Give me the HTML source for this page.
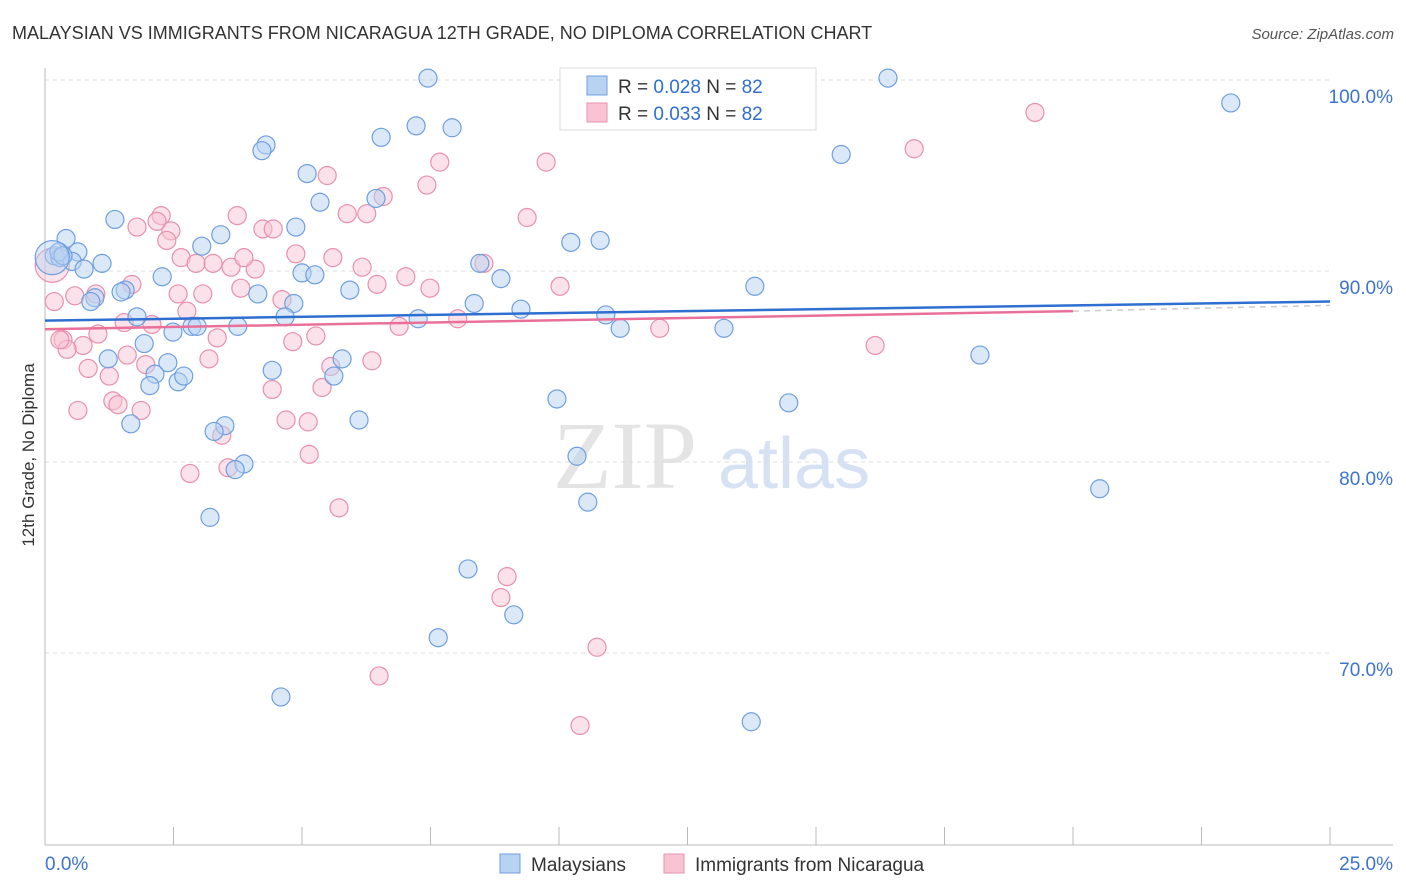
<!DOCTYPE html>
<html><head><meta charset="utf-8"><style>
body{margin:0;background:#fff;font-family:"Liberation Sans",sans-serif;}
</style></head><body>
<svg id="chart" width="1406" height="892" xmlns="http://www.w3.org/2000/svg" style="display:block">
<text x="12" y="39" font-size="18" fill="#333">MALAYSIAN VS IMMIGRANTS FROM NICARAGUA 12TH GRADE, NO DIPLOMA CORRELATION CHART</text>
<text x="1394" y="39" font-size="15" fill="#555" font-style="italic" text-anchor="end">Source: ZipAtlas.com</text>
<g>
<text x="553" y="488" font-size="96" font-family="Liberation Serif,serif" fill="#e4e4e4">ZIP</text>
<text x="718" y="488" font-size="72" fill="#d6e2f3">atlas</text>
</g>
<g id="grid"></g>
<g id="axes"></g>
<g id="pts"></g>
<g id="lines"></g>
<text transform="translate(34,455) rotate(-90)" font-size="17" fill="#333" text-anchor="middle">12th Grade, No Diploma</text>
<g>
<rect x="560" y="68" width="256" height="62" fill="#fff" stroke="#ddd"/>
<rect x="587" y="76" width="20" height="19" fill="#b8d2f2" stroke="#6f9fe0"/>
<rect x="587" y="103" width="20" height="19" fill="#f8c4d4" stroke="#e890ae"/>
<text x="618" y="93" font-size="19" fill="#333">R = <tspan fill="#2f6fd0">0.028</tspan>   N = <tspan fill="#2f6fd0">82</tspan></text>
<text x="618" y="120" font-size="19" fill="#333">R = <tspan fill="#2f6fd0">0.033</tspan>   N = <tspan fill="#2f6fd0">82</tspan></text>
</g>
<g>
<rect x="500" y="854" width="20" height="19" fill="#b8d2f2" stroke="#6f9fe0"/>
<text x="531" y="871" font-size="19" fill="#333">Malaysians</text>
<rect x="664" y="854" width="20" height="19" fill="#f8c4d4" stroke="#e890ae"/>
<text x="695" y="871" font-size="19" fill="#333">Immigrants from Nicaragua</text>
</g>
</svg>
<script>
const yTicks=[100,90,80,70];
const yTickLabels=["100.0%","90.0%","80.0%","70.0%"];
const xTickLabels=["0.0%","25.0%"];
const blueX=[7.45,16.40,23.07,4.30,4.22,6.54,7.22,7.92,5.10,15.49,6.44,5.35,1.36,4.88,3.42,0.41,3.05,0.18,0.29,0.64,0.53,1.11,0.76,2.28,5.00,5.25,8.46,8.87,10.23,10.80,5.93,4.14,4.84,1.56,1.48,0.97,0.89,8.35,9.26,13.81,7.26,10.91,11.19,13.21,4.67,3.75,2.86,2.96,2.49,1.79,1.93,1.23,2.39,5.78,5.62,4.42,2.14,2.04,2.59,2.70,18.19,14.47,9.96,1.67,6.11,3.50,3.29,10.35,3.87,3.70,3.21,20.52,10.56,8.23,9.12,7.65,4.59,13.74,0.27,0.35,0.14];
const blueY=[100.1,100.1,98.8,96.6,96.3,97.0,97.6,97.5,95.1,96.1,93.8,93.6,92.7,92.3,91.9,91.7,91.3,90.8,90.7,91.0,90.5,90.4,90.1,89.7,89.9,89.8,90.4,89.6,91.5,91.6,89.0,88.8,88.3,89.0,88.9,88.6,88.4,88.3,88.0,89.2,87.5,87.7,87.0,87.0,87.6,87.1,87.1,87.1,86.8,87.6,86.2,85.4,85.2,85.4,84.5,84.8,84.6,84.0,84.2,84.5,85.6,83.1,83.3,82.0,82.2,81.9,81.6,80.3,79.9,79.6,77.1,78.6,77.9,74.4,72.0,70.8,67.7,66.4,91.0,90.8,90.7];
const pinkX=[19.26,16.91,9.75,7.68,7.43,5.49,6.58,9.38,2.26,2.18,5.88,6.26,3.74,1.79,2.45,4.24,4.44,2.37,4.88,5.60,2.65,2.94,3.27,3.62,4.09,3.87,6.17,7.02,8.54,10.02,7.49,6.46,3.81,2.59,3.07,0.99,0.58,0.18,1.69,4.61,2.76,8.03,6.89,2.08,1.54,11.96,1.03,0.35,3.35,5.27,4.82,16.15,0.74,0.43,1.60,3.19,5.56,6.36,0.84,1.25,1.96,5.39,4.42,1.32,1.42,1.87,0.64,4.69,5.12,3.44,5.14,2.82,3.56,5.72,8.99,8.87,10.74,6.50,10.41,0.29,0.14];
const pinkY=[98.3,96.4,95.7,95.7,94.5,95.0,93.9,92.8,92.9,92.6,93.0,93.0,92.9,92.3,92.1,92.2,92.2,91.6,90.9,90.7,90.7,90.4,90.4,90.2,90.1,90.7,90.2,89.7,90.4,89.2,89.1,89.3,89.1,88.8,88.8,88.8,88.7,88.4,89.3,88.5,87.9,87.5,87.1,87.2,87.3,87.0,86.7,86.4,86.5,86.6,86.3,86.1,86.1,85.9,85.6,85.4,85.0,85.3,84.9,84.5,85.1,83.9,83.8,83.2,83.0,82.7,82.7,82.2,82.1,81.4,80.4,79.4,79.7,77.6,74.0,72.9,70.3,68.8,66.2,86.4,90.3];
const blueFit=[87.4,88.4];
const pinkFit=[86.95,87.9,88.2];
const NS="http://www.w3.org/2000/svg";
const X=v=>45+v/25*1285;
const Y=v=>80+(100-v)*19.1;
function mk(t,a,p){const e=document.createElementNS(NS,t);for(const k in a)e.setAttribute(k,a[k]);document.getElementById(p).appendChild(e);return e;}
yTicks.forEach((t,i)=>{
 const g=mk('line',{x1:45,x2:1330,y1:Y(t),y2:Y(t),stroke:'#ddd','stroke-dasharray':'4,4'},'grid');
 
 
 const l=mk('text',{x:1393,y:Y(t)+23,'font-size':19,fill:'#3c74d0','text-anchor':'end'},'axes');
 l.textContent=yTickLabels[i];
 
 
});
mk('line',{x1:45,x2:45,y1:68,y2:845,stroke:'#bbb'},'axes');
mk('line',{x1:45,x2:1393,y1:845,y2:845,stroke:'#bbb'},'axes');
for(let i=0;i<=10;i++){const xt=X(i*2.5);mk('line',{x1:xt,x2:xt,y1:827,y2:845,stroke:'#bbb'},'axes');}
const xl0=mk('text',{x:45,y:870,'font-size':19,fill:'#3c74d0'},'axes');xl0.textContent=xTickLabels[0];


const xl1=mk('text',{x:1393,y:870,'font-size':19,fill:'#3c74d0','text-anchor':'end'},'axes');xl1.textContent=xTickLabels[1];


function pts(xs,ys,fill,stroke,name){xs.forEach((x,i)=>{
 const big=i===xs.length-1;
 const c=mk('circle',{cx:X(x),cy:Y(ys[i]),r:big?17:9,fill:fill,'fill-opacity':big?0.45:0.5,stroke:stroke,'stroke-width':1.2},'pts');
 
 
});}
pts(pinkX,pinkY,'#f8c4d4','#e890ae','nicaragua-point');
pts(blueX,blueY,'#b8d2f2','#6f9fe0','malaysian-point');
const bl=mk('line',{x1:X(0),y1:Y(blueFit[0]),x2:X(25),y2:Y(blueFit[1]),stroke:'#2f6fd0','stroke-width':2.5},'lines');


const pl=mk('line',{x1:X(0),y1:Y(pinkFit[0]),x2:X(20),y2:Y(pinkFit[1]),stroke:'#e8709a','stroke-width':2.5},'lines');


const pd=mk('line',{x1:X(20),y1:Y(pinkFit[1]),x2:X(25),y2:Y(pinkFit[2]),stroke:'#ccc','stroke-width':1.5,'stroke-dasharray':'6,5'},'lines');


</script>
</body></html>
